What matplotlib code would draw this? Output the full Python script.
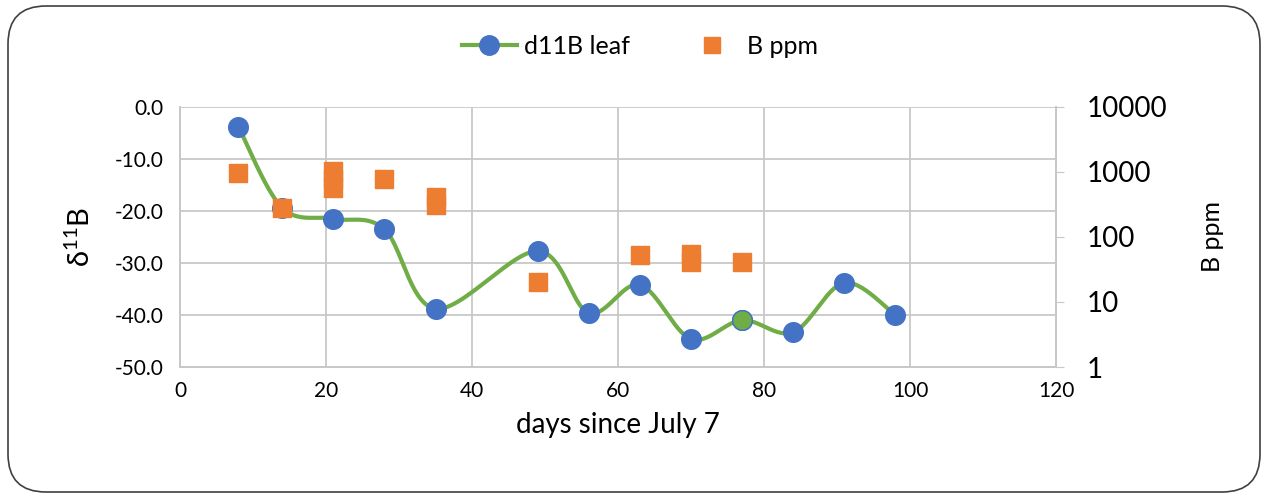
import numpy as np
import matplotlib.pyplot as plt
from matplotlib.patches import FancyBboxPatch
from matplotlib.lines import Line2D

plt.rcParams['font.family'] = ['Lato', 'DejaVu Sans']

# d11B leaf data
days = [8, 14, 21, 28, 35, 49, 56, 63, 70, 77, 84, 91, 98]
d11b = [-3.8, -19.4, -21.5, -23.5, -38.8, -27.7, -39.6, -34.2, -44.6, -41.0, -43.3, -33.8, -40.0]

# B ppm data
b_days = [8, 14, 21, 21, 21, 28, 35, 35, 49, 63, 70, 70, 77]
b_ppm = [970, 280, 1030, 780, 570, 780, 410, 310, 20, 53, 54, 41, 41]

grey = '#c8c8c8'
blue = '#4472c4'
orange = '#ed7d31'
green = '#70ad47'


def smooth(x, y, n=30):
    # Excel-like smoothing: cubic bezier with catmull-rom control points
    x = np.asarray(x, float)
    y = np.asarray(y, float)
    px = np.concatenate([[x[0]], x, [x[-1]]])
    py = np.concatenate([[y[0]], y, [y[-1]]])
    xs, ys = [], []
    t = np.linspace(0, 1, n)
    for i in range(1, len(px) - 2):
        p0 = np.array([px[i], py[i]])
        p3 = np.array([px[i + 1], py[i + 1]])
        p1 = p0 + (np.array([px[i + 1], py[i + 1]]) - np.array([px[i - 1], py[i - 1]])) / 6
        p2 = p3 - (np.array([px[i + 2], py[i + 2]]) - np.array([px[i], py[i]])) / 6
        pts = ((1 - t) ** 3)[:, None] * p0 + (3 * (1 - t) ** 2 * t)[:, None] * p1 \
            + (3 * (1 - t) * t ** 2)[:, None] * p2 + (t ** 3)[:, None] * p3
        xs.extend(pts[:, 0])
        ys.extend(pts[:, 1])
    return xs, ys


fig = plt.figure(figsize=(12.65, 4.98), dpi=100)
fig.patches.append(FancyBboxPatch((8 / 1265, 6 / 498), 1252 / 1265, 486 / 498,
                                  boxstyle='round,pad=0,rounding_size=0.03',
                                  transform=fig.transFigure, fill=False,
                                  edgecolor='#404040', linewidth=1.2,
                                  mutation_aspect=1265 / 498))

ax = fig.add_axes([180 / 1265, 1 - 367 / 498, (1056 - 180) / 1265, (367 - 107) / 498])
ax2 = ax.twinx()

sx, sy = smooth(days, d11b)
ax.plot(sx, sy, color=green, lw=3, zorder=3)
ax.scatter(days, d11b, s=200, color=blue, zorder=4)
ax.scatter([days[9]], [d11b[9]], s=200, color=green, edgecolor=blue, linewidth=1, zorder=5)

ax2.scatter(b_days, b_ppm, s=150, marker='s', color=orange, zorder=4)
ax2.set_yscale('log')
ax2.set_ylim(1, 10000)
ax2.set_yticks([1, 10, 100, 1000, 10000])
ax2.set_yticklabels(['1', '10', '100', '1000', '10000'])
ax2.minorticks_off()
ax2.tick_params(axis='y', labelsize=20, length=6, color=grey, pad=16)
ax2.set_ylabel('B ppm', fontsize=18, labelpad=24)

ax.set_xlim(0, 120)
ax.set_ylim(-50, 0)
ax.set_xticks(range(0, 121, 20))
ax.set_yticks(range(-50, 1, 10))
ax.set_yticklabels([f'{v:.1f}' for v in range(-50, 1, 10)])
ax.tick_params(axis='x', labelsize=15, length=0, pad=10)
ax.tick_params(axis='y', labelsize=15, length=0, pad=12)
ax.grid(True, color=grey, lw=1.3)
ax.set_axisbelow(True)
ax.set_xlabel('days since July 7', fontsize=20, labelpad=8)
ax.set_ylabel('δ$^{\\mathregular{11}}$B', fontsize=21, labelpad=14)

for a in (ax, ax2):
    for s in a.spines.values():
        s.set_color(grey)
        s.set_linewidth(1.3)
    a.spines['top'].set_visible(False)

handles = [Line2D([], [], color=green, lw=3, marker='o', markersize=14,
                  markerfacecolor=blue, markeredgecolor=blue),
           Line2D([], [], lw=0, marker='s', markersize=12, color=orange)]
fig.legend(handles, ['d11B leaf', 'B ppm'], loc='center', bbox_to_anchor=(640 / 1265, 1 - 46 / 498),
           ncol=2, frameon=False, fontsize=18, handlelength=2.2, handletextpad=0.3,
           columnspacing=2.2)

fig.savefig('out.png', dpi=100)
